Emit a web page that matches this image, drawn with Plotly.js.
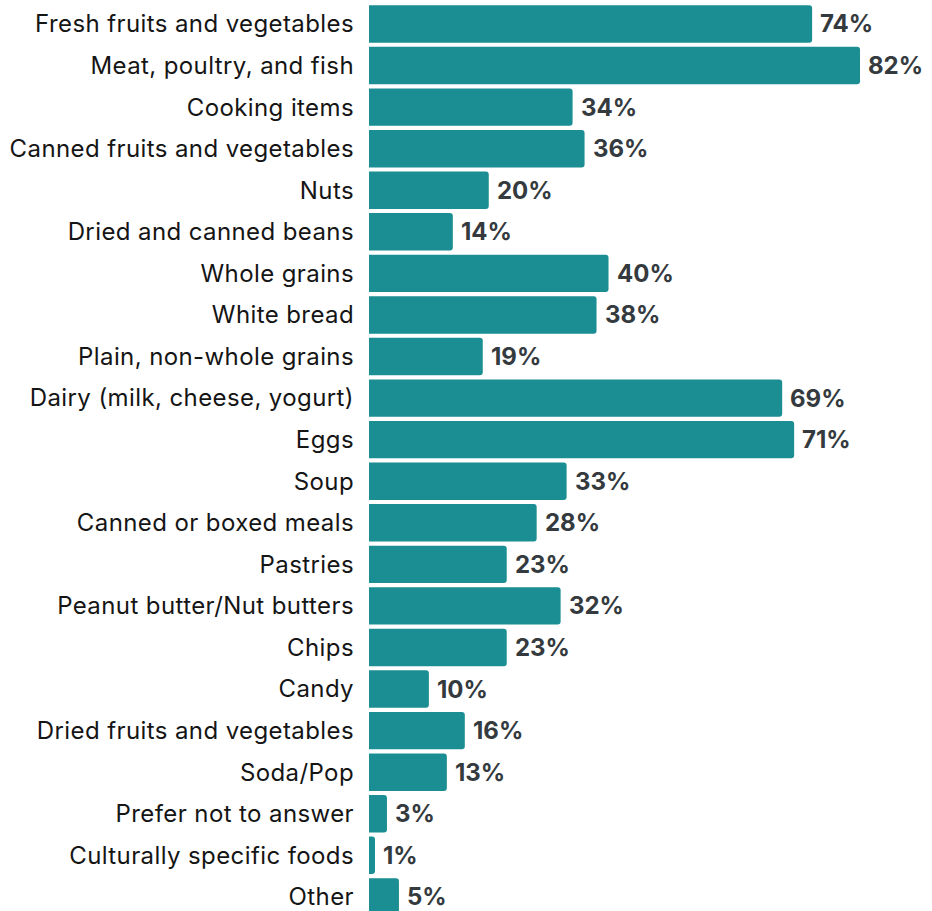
<!DOCTYPE html>
<html>
<head>
<meta charset="utf-8">
<script src="https://cdn.plot.ly/plotly-3.0.1.min.js"></script>
<style>html,body{margin:0;padding:0;background:#fff;}#chart{width:932px;height:911px;}
#chart .ytick text{letter-spacing:0.4px;}</style>
</head>
<body>
<div id="chart"></div>
<script>
const categories = [
  "Fresh fruits and vegetables",
  "Meat, poultry, and fish",
  "Cooking items",
  "Canned fruits and vegetables",
  "Nuts",
  "Dried and canned beans",
  "Whole grains",
  "White bread",
  "Plain, non-whole grains",
  "Dairy (milk, cheese, yogurt)",
  "Eggs",
  "Soup",
  "Canned or boxed meals",
  "Pastries",
  "Peanut butter/Nut butters",
  "Chips",
  "Candy",
  "Dried fruits and vegetables",
  "Soda/Pop",
  "Prefer not to answer",
  "Culturally specific foods",
  "Other"
];
const values = [74, 82, 34, 36, 20, 14, 40, 38, 19, 69, 71, 33, 28, 23, 32, 23, 10, 16, 13, 3, 1, 5];
const valueLabels = values.map(v => v + "%");

const trace = {
  type: "bar",
  orientation: "h",
  x: values,
  y: categories,
  marker: {color: "#1a8e92", line: {width: 0}},
  hoverinfo: "none"
};

const annotations = values.map((v, i) => ({
  x: v, y: categories[i], xref: "x", yref: "y",
  text: valueLabels[i], showarrow: false,
  xanchor: "left", yanchor: "middle", xshift: 6,
  font: {family: "Inter, sans-serif", size: 24, color: "#343a3e", weight: 700}
}));

const layout = {
  width: 932, height: 911,
  margin: {l: 369, r: 0, t: 3, b: 0, pad: 0},
  paper_bgcolor: "#fff", plot_bgcolor: "#fff",
  showlegend: false,
  bargap: 0.1,
  barcornerradius: 3,
  xaxis: {range: [0, 94.02], visible: false, fixedrange: true},
  yaxis: {
    type: "category", range: [21.34, -0.505], automargin: false,
    showgrid: false, zeroline: false, showline: false, ticks: "",
    ticklabelstandoff: 14,
    tickfont: {family: "Inter, sans-serif", size: 24, color: "#151515"}
  },
  annotations: annotations
};

Plotly.newPlot("chart", [trace], layout, {displayModeBar: false, staticPlot: true});
</script>
</body>
</html>
